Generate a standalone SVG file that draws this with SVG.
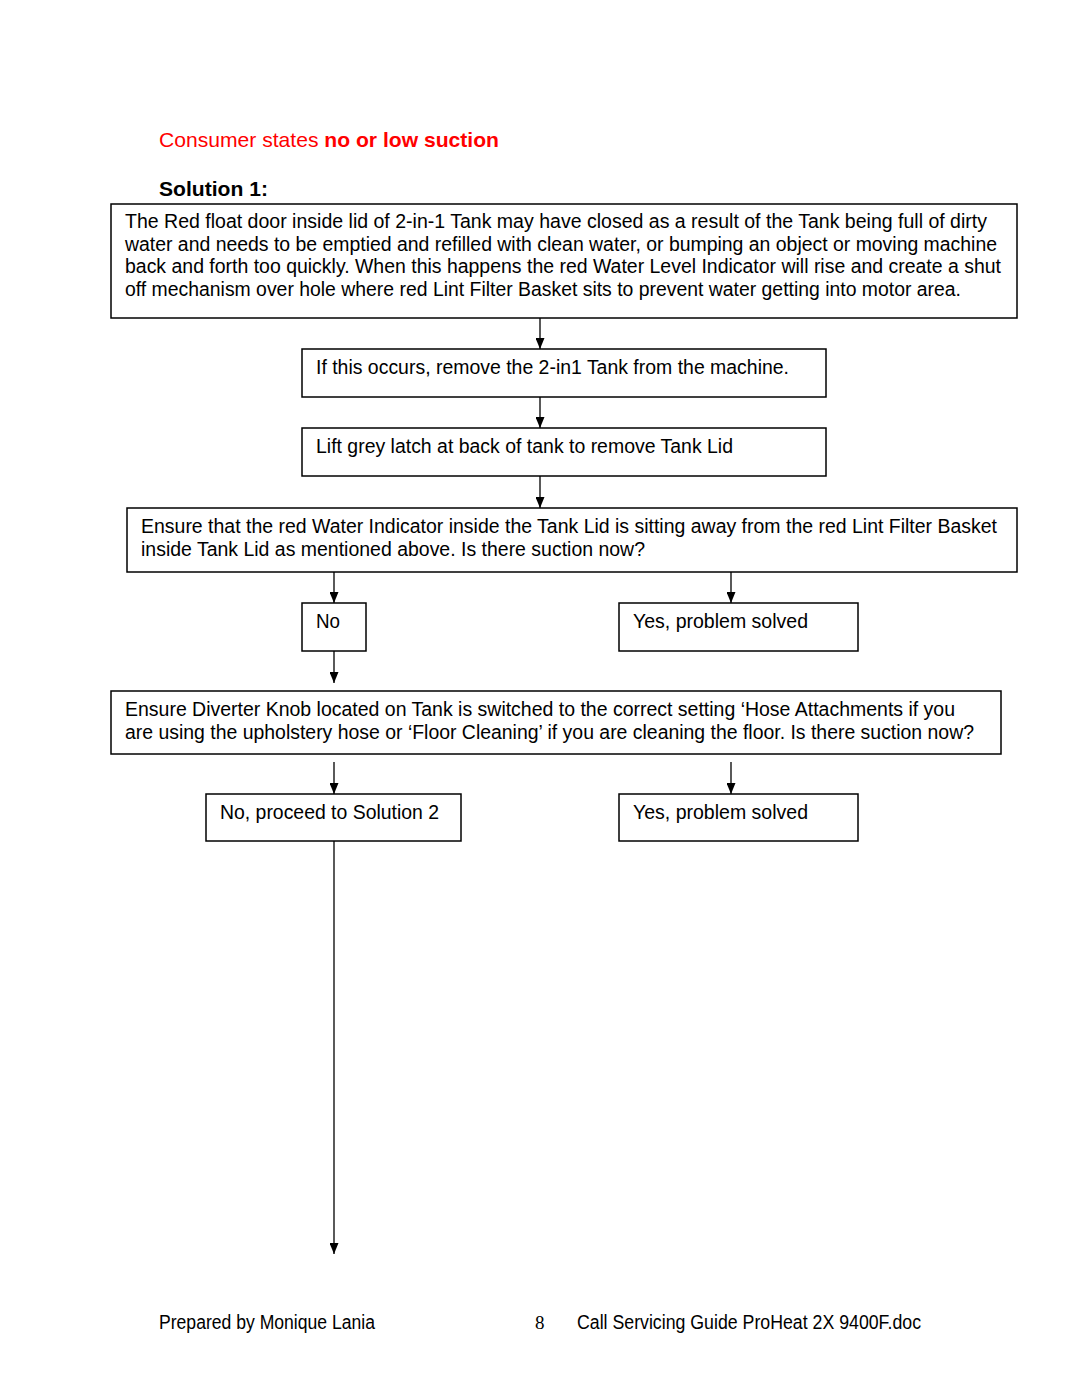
<svg xmlns="http://www.w3.org/2000/svg" width="1080" height="1397" viewBox="0 0 1080 1397">
<style>
.t{font-family:"Liberation Sans",Arial,sans-serif;font-size:19.5px;fill:#000}
.box{fill:#fff;stroke:#000;stroke-width:1.5}
.con{stroke:#000;stroke-width:1.3;fill:none;marker-end:url(#ah)}
</style>
<defs>
<marker id="ah" markerUnits="userSpaceOnUse" markerWidth="11" markerHeight="9" refX="11" refY="4.5" orient="auto" viewBox="0 0 11 9">
<path d="M0,0 L11,4.5 L0,9 z" fill="#000"/>
</marker>
</defs>
<rect width="1080" height="1397" fill="#fff"/>
<g id="title">
<text x="159" y="147" font-family="Liberation Sans,Arial,sans-serif" font-size="21" fill="#ff0000" textLength="340" lengthAdjust="spacingAndGlyphs">Consumer states <tspan font-weight="bold">no or low suction</tspan></text>
</g>
<g id="solution1">
<text x="159" y="196" font-family="Liberation Sans,Arial,sans-serif" font-size="20" font-weight="bold" textLength="109" lengthAdjust="spacingAndGlyphs">Solution 1:</text>
</g>
<g id="connectors">
<line class="con" x1="540" y1="318" x2="540" y2="349"/>
<line class="con" x1="540" y1="397" x2="540" y2="428"/>
<line class="con" x1="540" y1="476" x2="540" y2="508"/>
<line class="con" x1="334" y1="572" x2="334" y2="603"/>
<line class="con" x1="731" y1="572" x2="731" y2="603"/>
<line class="con" x1="334" y1="651" x2="334" y2="683"/>
<line class="con" x1="334" y1="762" x2="334" y2="794"/>
<line class="con" x1="731" y1="762" x2="731" y2="794"/>
<line class="con" x1="334" y1="841" x2="334" y2="1254"/>
</g>
<g id="n1">
<rect class="box" x="111" y="204" width="906" height="114"/>
<text class="t" x="125" y="228" textLength="862" lengthAdjust="spacingAndGlyphs">The Red float door inside lid of 2-in-1 Tank may have closed as a result of the Tank being full of dirty</text>
<text class="t" x="125" y="250.5" textLength="872" lengthAdjust="spacingAndGlyphs">water and needs to be emptied and refilled with clean water, or bumping an object or moving machine</text>
<text class="t" x="125" y="273" textLength="876" lengthAdjust="spacingAndGlyphs">back and forth too quickly. When this happens the red Water Level Indicator will rise and create a shut</text>
<text class="t" x="125" y="295.5" textLength="836" lengthAdjust="spacingAndGlyphs">off mechanism over hole where red Lint Filter Basket sits to prevent water getting into motor area.</text>
</g>
<g id="n2">
<rect class="box" x="302" y="349" width="524" height="48"/>
<text class="t" x="316" y="374" textLength="473" lengthAdjust="spacingAndGlyphs">If this occurs, remove the 2-in1 Tank from the machine.</text>
</g>
<g id="n3">
<rect class="box" x="302" y="428" width="524" height="48"/>
<text class="t" x="316" y="453" textLength="417" lengthAdjust="spacingAndGlyphs">Lift grey latch at back of tank to remove Tank Lid</text>
</g>
<g id="n4">
<rect class="box" x="127" y="508" width="890" height="64"/>
<text class="t" x="141" y="533" textLength="856" lengthAdjust="spacingAndGlyphs">Ensure that the red Water Indicator inside the Tank Lid is sitting away from the red Lint Filter Basket</text>
<text class="t" x="141" y="555.5" textLength="504" lengthAdjust="spacingAndGlyphs">inside Tank Lid as mentioned above. Is there suction now?</text>
</g>
<g id="n5">
<rect class="box" x="302" y="603" width="64" height="48"/>
<text class="t" x="316" y="628" textLength="24" lengthAdjust="spacingAndGlyphs">No</text>
</g>
<g id="n6">
<rect class="box" x="619" y="603" width="239" height="48"/>
<text class="t" x="633" y="628" textLength="175" lengthAdjust="spacingAndGlyphs">Yes, problem solved</text>
</g>
<g id="n7">
<rect class="box" x="111" y="691" width="890" height="63"/>
<text class="t" x="125" y="716" textLength="830" lengthAdjust="spacingAndGlyphs">Ensure Diverter Knob located on Tank is switched to the correct setting ‘Hose Attachments if you</text>
<text class="t" x="125" y="738.5" textLength="849" lengthAdjust="spacingAndGlyphs">are using the upholstery hose or ‘Floor Cleaning’ if you are cleaning the floor. Is there suction now?</text>
</g>
<g id="n8">
<rect class="box" x="206" y="794" width="255" height="47"/>
<text class="t" x="220" y="819" textLength="219" lengthAdjust="spacingAndGlyphs">No, proceed to Solution 2</text>
</g>
<g id="n9">
<rect class="box" x="619" y="794" width="239" height="47"/>
<text class="t" x="633" y="819" textLength="175" lengthAdjust="spacingAndGlyphs">Yes, problem solved</text>
</g>
<g id="footer">
<text class="t" x="159" y="1329" font-size="18" textLength="216" lengthAdjust="spacingAndGlyphs">Prepared by Monique Lania</text>
<text x="535" y="1329" font-family="Liberation Serif,Times New Roman,serif" font-size="19">8</text>
<text class="t" x="577" y="1329" font-size="18" textLength="344" lengthAdjust="spacingAndGlyphs">Call Servicing Guide ProHeat 2X 9400F.doc</text>
</g>
</svg>
